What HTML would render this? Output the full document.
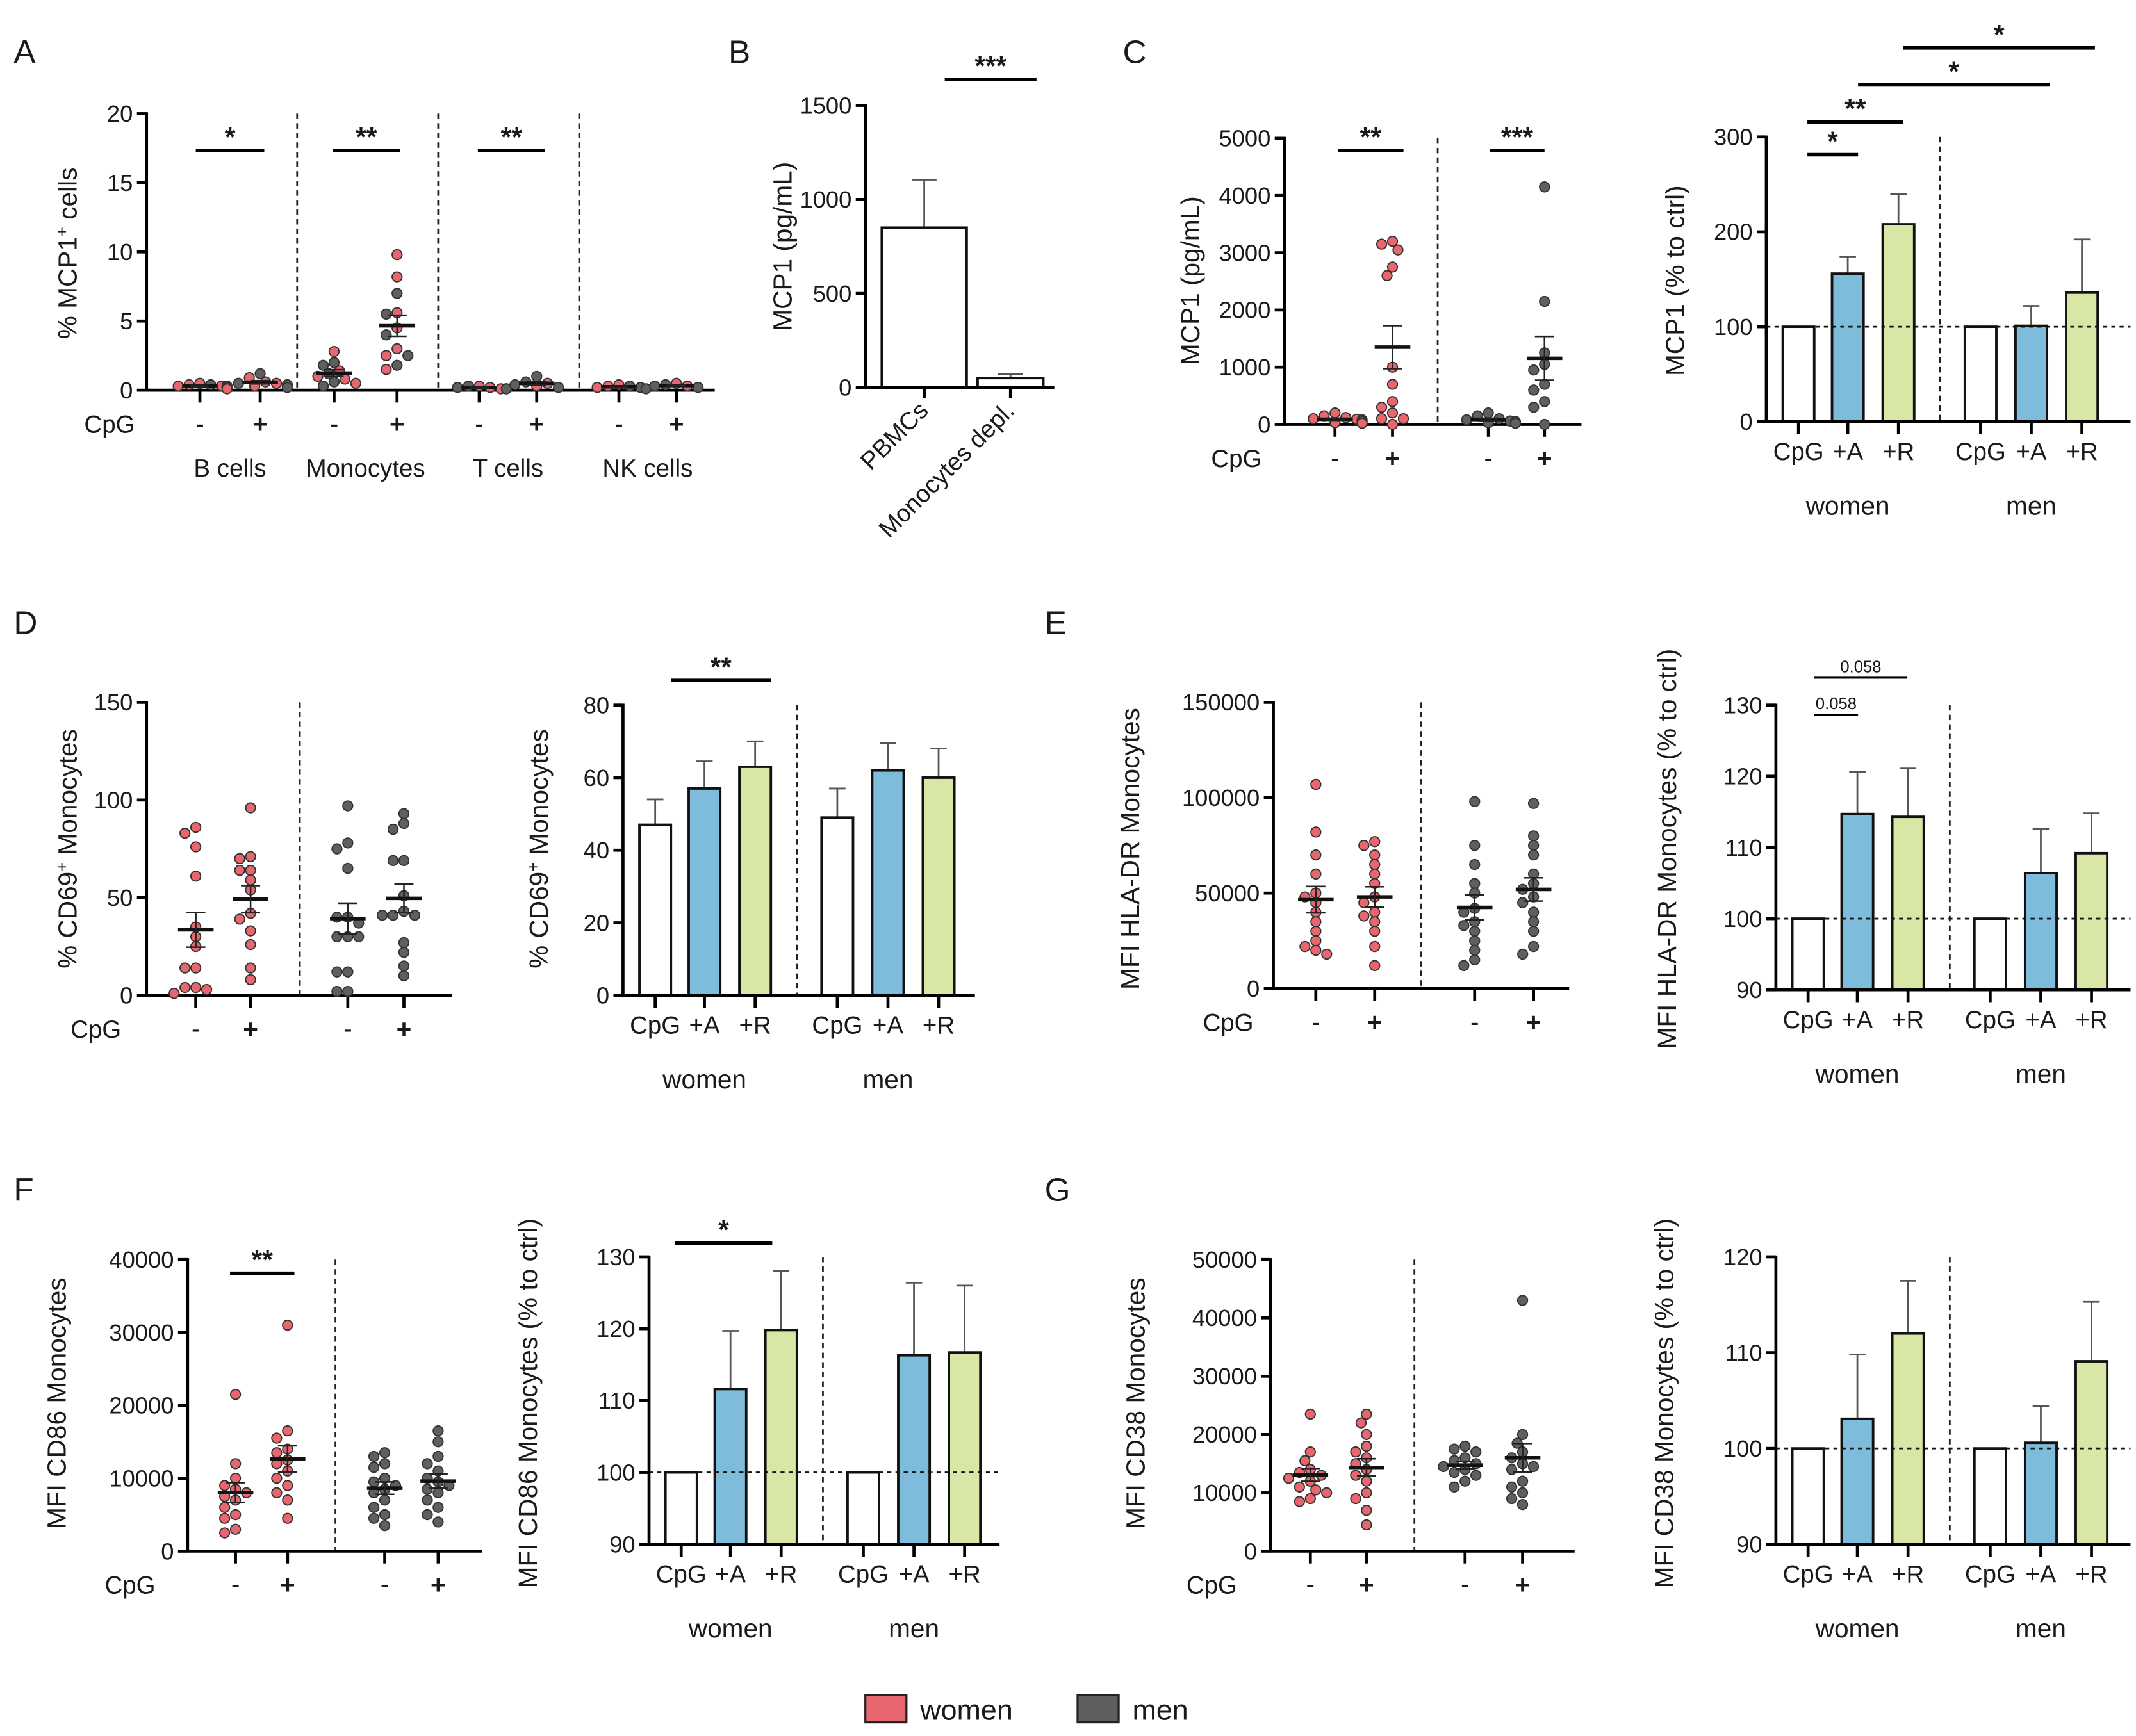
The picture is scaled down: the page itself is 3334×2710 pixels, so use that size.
<!DOCTYPE html>
<html><head><meta charset="utf-8"><title>MCP1 and monocyte activation figure</title>
<style>
html,body{margin:0;padding:0;background:#fff;}
svg{display:block;font-family:"Liberation Sans",Arial,sans-serif;}
</style></head>
<body>
<svg id="fig" xmlns="http://www.w3.org/2000/svg" width="3334" height="2710" viewBox="0 0 1560 1268">
<rect width="1560" height="1268" fill="#fff"/>
</svg>
<script>
// ---------- DATA ----------
const aCategories = ['B cells','Monocytes','T cells','NK cells'];
const aBNegWomen = [0.2,0.4,0.3,0.5,0.1,0.3];
const aBNegMen = [0.2,0.4,0.3];
const aBPosWomen = [0.3,0.6,0.9,0.5];
const aBPosMen = [0.4,1.2,0.5,0.2];
const aMNegWomen = [0.5,1.0,1.4,2.8,0.8];
const aMNegMen = [0.3,1.8,1.2,0.6,2.0];
const aMPosWomen = [9.8,8.2,5.6,4.5,3.0,1.5,2.5];
const aMPosMen = [7.0,5.5,4.0,2.5,1.8];
const aTNegWomen = [0.1,0.2,0.3];
const aTNegMen = [0.1,0.2,0.3,0.1];
const aTPosWomen = [0.3,0.5];
const aTPosMen = [0.4,1.0,0.2,0.6];
const aNKNegWomen = [0.2,0.4,0.3];
const aNKNegMen = [0.2,0.3,0.1];
const aNKPosWomen = [0.3,0.5];
const aNKPosMen = [0.2,0.4,0.3];
const aTicks = [0,5,10,15,20];

const bCategories = ['PBMCs','Monocytes depl.'];
const bMeans = [850,50];
const bSems = [255,20];
const bTicks = [0,500,1000,1500];

const cWomenNeg = [50,120,200,80,30,150,100,60,20,90];
const cWomenPos = [3200,3150,3050,2750,2600,1000,700,400,300,200,100,100,0];
const cMenNeg = [50,100,200,150,80,30,20,60];
const cMenPos = [4150,2150,1250,1050,950,700,600,400,300,0];
const cTicks = [0,1000,2000,3000,4000,5000];
const barCategories = ['CpG','+A','+R','CpG','+A','+R'];
const cBarMeans = [100,156,208,100,101,136];
const cBarSems = [0,18,32,0,21,56];
const cBarTicks = [0,100,200,300];

const dWomenNeg = [86,83,76,61,35,30,25,14,14,4,3,4,1];
const dWomenPos = [96,70,71,64,64,59,54,42,39,33,26,14,8];
const dMenNeg = [97,78,75,65,40,40,37,30,30,30,12,12,2,2];
const dMenPos = [93,88,85,69,69,51,43,41,41,41,27,22,15,10];
const dTicks = [0,50,100,150];
const dBarMeans = [47,57,63,49,62,60];
const dBarSems = [7,7.5,7,8,7.5,8];
const dBarTicks = [0,20,40,60,80];

const eWomenNeg = [107000,82000,70000,60000,50000,48000,45000,40000,35000,30000,25000,22000,20000,18000];
const eWomenPos = [77000,75000,70000,65000,60000,55000,48000,45000,40000,38000,35000,30000,22000,12000];
const eMenNeg = [98000,75000,65000,55000,50000,42000,40000,35000,33000,30000,25000,20000,15000,12000];
const eMenPos = [97000,80000,75000,70000,60000,55000,52000,48000,45000,40000,35000,30000,22000,18000];
const eTicks = [0,50000,100000,150000];
const eBarMeans = [100,114.7,114.3,100,106.4,109.2];
const eBarSems = [0,5.9,6.8,0,6.2,5.6];
const eBarTicks = [90,100,110,120,130];

const fWomenNeg = [21500,12000,10000,9000,8500,8000,7500,7000,6000,5000,4500,3000,2500];
const fWomenPos = [31000,16500,15500,14000,13500,12500,12000,11000,10000,9000,8000,7000,4500];
const fMenNeg = [13500,13000,12000,11500,10000,9500,9000,8500,8000,7000,6000,5000,4500,3500];
const fMenPos = [16500,15000,13000,12000,11000,10000,9500,9000,8500,8000,7000,6000,5000,4000];
const fTicks = [0,10000,20000,30000,40000];
const fBarMeans = [100,111.6,119.8,100,116.3,116.7];
const fBarSems = [0,8.1,8.2,0,10.1,9.3];
const fBarTicks = [90,100,110,120,130];

const gWomenNeg = [23500,17000,15500,14000,13500,13000,12500,12000,11000,10500,10000,9000,8500];
const gWomenPos = [23500,22000,20000,18000,17000,16000,15000,14000,13000,12000,10000,9000,7000,4500];
const gMenNeg = [18000,17500,17000,16000,15500,15000,14500,14000,13500,13000,12000,11000];
const gMenPos = [43000,20000,18500,17000,16000,15000,14500,14000,12000,11000,10000,9000,8000];
const gTicks = [0,10000,20000,30000,40000,50000];
const gBarMeans = [100,103.1,112,100,100.6,109.1];
const gBarSems = [0,6.7,5.5,0,3.8,6.2];
const gBarTicks = [90,100,110,120];

// ---------- DRAWING ----------
const NS = 'http://www.w3.org/2000/svg';
const svg = document.getElementById('fig');
const RED = '#e8676e', GRAY = '#5f5f5f', BLUE = '#7fbcdc', GREEN = '#d8e7a6';
const barColors = ['#ffffff', BLUE, GREEN, '#ffffff', BLUE, GREEN];

function mk(tag, attrs, parent, txt) {
  const e = document.createElementNS(NS, tag);
  for (const k in attrs) e.setAttribute(k, attrs[k]);
  if (txt !== undefined) e.textContent = txt;
  (parent || svg).appendChild(e);
  return e;
}
function line(p, x1, y1, x2, y2, w, col, dash) {
  const a = {x1, y1, x2, y2, stroke: col || '#000', 'stroke-width': w || 2};
  if (dash) a['stroke-dasharray'] = dash;
  return mk('line', a, p);
}
function text(p, x, y, s, size, anchor, weight) {
  return mk('text', {x, y, 'font-size': size || 17, 'text-anchor': anchor || 'middle', 'font-weight': weight || 'normal', fill: '#1a1a1a'}, p, s);
}
function scaler(vmin, vmax, yB, yT) { return v => yB - (v - vmin) / (vmax - vmin) * (yB - yT); }
function fmt(v) { return String(v); }
function meanOf(a) { return a.reduce((s, v) => s + v, 0) / a.length; }
function semOf(a) { const m = meanOf(a); const sd = Math.sqrt(a.reduce((s, v) => s + (v - m) * (v - m), 0) / (a.length - 1)); return sd / Math.sqrt(a.length); }

function panelLetter(x, y, s) {
  const t = text(svg, x, y, s, 24, 'start');
  
  
}
function yTitle(g, x, cy, parts, name) {
  const t = mk('text', {transform: `translate(${x},${cy}) rotate(-90)`, 'font-size': 19, 'text-anchor': 'middle', fill: '#1a1a1a'}, g);
  parts.forEach(p => {
    mk('tspan', p.sup ? {'baseline-shift': 'super', 'font-size': 12} : {}, t, p.t);
  });
  
  
}
function yAxis(g, ax, yB, yT, ticks, sc, name, fs) {
  const ag = mk('g', {}, g);
  
  
  line(ag, ax, yT - 1, ax, yB + 1, 2.2);
  ticks.forEach(t => {
    const y = sc(t);
    line(ag, ax - 7, y, ax, y, 2.2);
    text(ag, ax - 10, y + 6, fmt(t), fs || 17, 'end');
  });
}
function sig(g, x1, x2, y, s, small) {
  const sg = mk('g', {}, g);
  
  
  line(sg, x1, y, x2, y, small ? 1.5 : 2.6);
  if (small) text(sg, (x1 + x2) / 2, y - 4, s, 12);
  else text(sg, (x1 + x2) / 2, y - 3, s, 20, 'middle', 'bold');
}

function beeswarm(vals, sc, cx, r) {
  const placed = [];
  const order = vals.map((v, i) => ({v, i})).sort((a, b) => b.v - a.v);
  order.forEach(o => {
    const y = sc(o.v);
    const cands = [0, -1, 1, -2, 2, -3, 3, -4, 4, -5, 5];
    for (const c of cands) {
      const x = cx + c * r * 1.1;
      if (!placed.some(p => Math.hypot(p.x - x, p.y - y) < r * 1.9) || c === 5) { placed.push({x, y, i: o.i}); break; }
    }
  });
  return placed;
}

function scatterPanel(cfg) {
  const g = mk('g', {});
  
  
  const sc = scaler(cfg.vmin, cfg.vmax, cfg.yB, cfg.yT);
  yAxis(g, cfg.ax, cfg.yB, cfg.yT, cfg.ticks, sc, cfg.name + '-y-axis', cfg.tickSize);
  yTitle(g, cfg.tx, cfg.ty, cfg.title, cfg.name + '-y-title');
  cfg.seps.forEach(x => {
    const l = line(g, x, cfg.yT, x, cfg.yB, 1.3, '#222', '4 3');
    
    
  });
  const xa = mk('g', {}, g);
  
  
  line(xa, cfg.ax, cfg.yB, cfg.xEnd, cfg.yB, 2.2);
  cfg.groups.forEach((gr, k) => {
    line(xa, gr.x, cfg.yB, gr.x, cfg.yB + 9, 2.2);
    text(xa, gr.x, cfg.yB + 31, k % 2 === 0 ? '-' : '+', 19, 'middle', k % 2 ? 'bold' : 'normal');
  });
  const cp = text(xa, cfg.cpgX, cfg.yB + 31, 'CpG', 18, 'middle');
  
  
  const r = 3.6;
  cfg.groups.forEach(gr => {
    const all = [];
    gr.sets.forEach(s => s.vals.forEach(v => all.push({v, c: s.color})));
    const pos = beeswarm(all.map(a => a.v), sc, gr.x, r);
    const pg = mk('g', {}, g);
    
    
    pos.forEach(p => {
      const c = mk('circle', {cx: p.x, cy: p.y, r, fill: all[p.i].c, stroke: '#333', 'stroke-width': 0.9}, pg);
      
      
    });
    const vals = all.map(a => a.v);
    const m = meanOf(vals), se = semOf(vals);
    const mg = mk('g', {}, g);
    
    
    line(mg, gr.x - 13, sc(m), gr.x + 13, sc(m), 2.6, '#111');
    line(mg, gr.x, sc(m - se), gr.x, sc(m + se), 1.2, '#222');
    line(mg, gr.x - 7, sc(m + se), gr.x + 7, sc(m + se), 1.2, '#222');
    line(mg, gr.x - 7, sc(m - se), gr.x + 7, sc(m - se), 1.2, '#222');
  });
  (cfg.sigs || []).forEach(s => sig(g, s[0], s[1], s[2], s[3]));
  return g;
}

function barPanel(cfg) {
  const g = mk('g', {});
  
  
  const sc = scaler(cfg.vmin, cfg.vmax, cfg.yB, cfg.yT);
  const offs = [23.5, 59.5, 96.5, 156.5, 193.5, 230.5];
  const bw = 23;
  yTitle(g, cfg.tx, cfg.ty, cfg.title, cfg.name + '-y-title');
  const sepX = cfg.ax + 127;
  const sp = line(g, sepX, cfg.yT, sepX, cfg.yB, 1.3, '#222', '4 3');
  
  
  cfg.means.forEach((m, i) => {
    const cx = cfg.ax + offs[i];
    const bg = mk('g', {}, g);
    
    
    const top = sc(m), se = cfg.sems[i];
    if (se > 0) {
      line(bg, cx, top, cx, sc(m + se), 1.3, '#555');
      line(bg, cx - 6, sc(m + se), cx + 6, sc(m + se), 1.3, '#555');
    }
    mk('rect', {x: cx - bw / 2, y: top, width: bw, height: cfg.yB - top, fill: barColors[i], stroke: '#111', 'stroke-width': 1.8}, bg);
    line(bg, cx, cfg.yB, cx, cfg.yB + 9, 2.2);
    text(bg, cx, cfg.yB + 28, barCategories[i], 18);
  });
  if (cfg.ref !== undefined) {
    const rl = line(g, cfg.ax, sc(cfg.ref), cfg.xEnd, sc(cfg.ref), 1.3, '#111', '3 3');
    
    
  }
  yAxis(g, cfg.ax, cfg.yB, cfg.yT, cfg.ticks, sc, cfg.name + '-y-axis');
  const xa = line(g, cfg.ax, cfg.yB, cfg.xEnd, cfg.yB, 2.2);
  
  
  const w = text(g, cfg.ax + 59.5, cfg.yB + 68, 'women', 19);
  
  
  const mn = text(g, cfg.ax + 193.5, cfg.yB + 68, 'men', 19);
  
  
  (cfg.sigs || []).forEach(s => sig(g, s[0], s[1], s[2], s[3], s[4]));
  return g;
}

// ---------- PANELS ----------
panelLetter(10, 46, 'A'); panelLetter(532, 46, 'B'); panelLetter(820, 46, 'C');
panelLetter(10, 463, 'D'); panelLetter(763, 463, 'E');
panelLetter(10, 877, 'F'); panelLetter(763, 877, 'G');

// A
const pa = scatterPanel({name: 'panel-a', ax: 107, yB: 285, yT: 83, vmin: 0, vmax: 20, ticks: aTicks, xEnd: 522,
  seps: [217, 320, 423], cpgX: 80, tx: 56, ty: 185,
  title: [{t: '% MCP1'}, {t: '+', sup: true}, {t: ' cells'}],
  groups: [
    {x: 146, sets: [{vals: aBNegWomen, color: RED}, {vals: aBNegMen, color: GRAY}]},
    {x: 190, sets: [{vals: aBPosWomen, color: RED}, {vals: aBPosMen, color: GRAY}]},
    {x: 244, sets: [{vals: aMNegWomen, color: RED}, {vals: aMNegMen, color: GRAY}]},
    {x: 290, sets: [{vals: aMPosWomen, color: RED}, {vals: aMPosMen, color: GRAY}]},
    {x: 350, sets: [{vals: aTNegWomen, color: RED}, {vals: aTNegMen, color: GRAY}]},
    {x: 392, sets: [{vals: aTPosWomen, color: RED}, {vals: aTPosMen, color: GRAY}]},
    {x: 452, sets: [{vals: aNKNegWomen, color: RED}, {vals: aNKNegMen, color: GRAY}]},
    {x: 494, sets: [{vals: aNKPosWomen, color: RED}, {vals: aNKPosMen, color: GRAY}]}],
  sigs: [[143, 193, 110, '*'], [243, 292, 110, '**'], [349, 398, 110, '**']]});
[168, 267, 371, 473].forEach((x, i) => {
  const t = text(pa, x, 348, aCategories[i], 18);
  
  
});

// B
(function () {
  const g = mk('g', {});
  
  
  const yB = 283, yT = 77, ax = 632;
  const sc = scaler(0, 1500, yB, yT);
  yTitle(g, 578, 180, [{t: 'MCP1 (pg/mL)'}], 'panel-b-y-title');
  const xs = [675, 738], ws = [62, 48];
  bMeans.forEach((m, i) => {
    const bg = mk('g', {}, g);
    
    
    line(bg, xs[i], sc(m), xs[i], sc(m + bSems[i]), 1.3, '#555');
    line(bg, xs[i] - 9, sc(m + bSems[i]), xs[i] + 9, sc(m + bSems[i]), 1.3, '#555');
    mk('rect', {x: xs[i] - ws[i] / 2, y: sc(m), width: ws[i], height: yB - sc(m), fill: '#fff', stroke: '#111', 'stroke-width': 1.8}, bg);
    line(bg, xs[i], yB, xs[i], yB + 8, 2.2);
    mk('text', {transform: `translate(${xs[i] + 4},${yB + 18}) rotate(-45)`, 'font-size': 18, 'text-anchor': 'end', fill: '#1a1a1a'}, bg, bCategories[i]);
  });
  yAxis(g, ax, yB, yT, bTicks, sc, 'panel-b-y-axis');
  line(g, ax, yB, 770, yB, 2.2);
  sig(g, 690, 757, 58, '***');
})();

// C left
scatterPanel({name: 'panel-c-scatter', ax: 938, yB: 310, yT: 101, vmin: 0, vmax: 5000, ticks: cTicks, xEnd: 1155,
  seps: [1050], cpgX: 903, tx: 876, ty: 205, title: [{t: 'MCP1 (pg/mL)'}],
  groups: [{x: 975, sets: [{vals: cWomenNeg, color: RED}]}, {x: 1017, sets: [{vals: cWomenPos, color: RED}]},
    {x: 1087, sets: [{vals: cMenNeg, color: GRAY}]}, {x: 1128, sets: [{vals: cMenPos, color: GRAY}]}],
  sigs: [[977, 1025, 110, '**'], [1088, 1128, 110, '***']]});
// C right
barPanel({name: 'panel-c-bars', ax: 1290, yB: 308, yT: 100, vmin: 0, vmax: 300, ticks: cBarTicks, xEnd: 1556, ref: 100,
  means: cBarMeans, sems: cBarSems, tx: 1230, ty: 205, title: [{t: 'MCP1 (% to ctrl)'}],
  sigs: [[1320, 1357, 113, '*'], [1320, 1390, 89, '**'], [1357, 1497, 62, '*'], [1390, 1530, 35, '*']]});

// D
scatterPanel({name: 'panel-d-scatter', ax: 107, yB: 727, yT: 513, vmin: 0, vmax: 150, ticks: dTicks, xEnd: 330,
  seps: [219], cpgX: 70, tx: 56, ty: 620, title: [{t: '% CD69'}, {t: '+', sup: true}, {t: ' Monocytes'}],
  groups: [{x: 143, sets: [{vals: dWomenNeg, color: RED}]}, {x: 183, sets: [{vals: dWomenPos, color: RED}]},
    {x: 254, sets: [{vals: dMenNeg, color: GRAY}]}, {x: 295, sets: [{vals: dMenPos, color: GRAY}]}]});
barPanel({name: 'panel-d-bars', ax: 455, yB: 727, yT: 515, vmin: 0, vmax: 80, ticks: dBarTicks, xEnd: 712,
  means: dBarMeans, sems: dBarSems, tx: 400, ty: 620, title: [{t: '% CD69'}, {t: '+', sup: true}, {t: ' Monocytes'}],
  sigs: [[490, 563, 497, '**']]});

// E
scatterPanel({name: 'panel-e-scatter', ax: 930, yB: 722, yT: 513, vmin: 0, vmax: 150000, ticks: eTicks, xEnd: 1146,
  seps: [1038], cpgX: 897, tx: 832, ty: 620, title: [{t: 'MFI HLA-DR Monocytes'}],
  groups: [{x: 961, sets: [{vals: eWomenNeg, color: RED}]}, {x: 1004, sets: [{vals: eWomenPos, color: RED}]},
    {x: 1077, sets: [{vals: eMenNeg, color: GRAY}]}, {x: 1120, sets: [{vals: eMenPos, color: GRAY}]}]});
barPanel({name: 'panel-e-bars', ax: 1297, yB: 723, yT: 515, vmin: 90, vmax: 130, ticks: eBarTicks, xEnd: 1556, ref: 100,
  means: eBarMeans, sems: eBarSems, tx: 1224, ty: 620, title: [{t: 'MFI HLA-DR Monocytes (% to ctrl)'}],
  sigs: [[1325, 1357, 522, '0.058', true], [1325, 1393, 495, '0.058', true]]});

// F
scatterPanel({name: 'panel-f-scatter', ax: 137, yB: 1133, yT: 920, vmin: 0, vmax: 40000, ticks: fTicks, xEnd: 352,
  seps: [245], cpgX: 95, tx: 48, ty: 1025, title: [{t: 'MFI CD86 Monocytes'}],
  groups: [{x: 172, sets: [{vals: fWomenNeg, color: RED}]}, {x: 210, sets: [{vals: fWomenPos, color: RED}]},
    {x: 281, sets: [{vals: fMenNeg, color: GRAY}]}, {x: 320, sets: [{vals: fMenPos, color: GRAY}]}],
  sigs: [[168, 215, 930, '**']]});
barPanel({name: 'panel-f-bars', ax: 474, yB: 1128, yT: 918, vmin: 90, vmax: 130, ticks: fBarTicks, xEnd: 730, ref: 100,
  means: fBarMeans, sems: fBarSems, tx: 392, ty: 1025, title: [{t: 'MFI CD86 Monocytes (% to ctrl)'}],
  sigs: [[493, 564, 908, '*']]});

// G
scatterPanel({name: 'panel-g-scatter', ax: 928, yB: 1133, yT: 920, vmin: 0, vmax: 50000, ticks: gTicks, xEnd: 1150,
  seps: [1033], cpgX: 885, tx: 836, ty: 1025, title: [{t: 'MFI CD38 Monocytes'}],
  groups: [{x: 957, sets: [{vals: gWomenNeg, color: RED}]}, {x: 998, sets: [{vals: gWomenPos, color: RED}]},
    {x: 1070, sets: [{vals: gMenNeg, color: GRAY}]}, {x: 1112, sets: [{vals: gMenPos, color: GRAY}]}]});
barPanel({name: 'panel-g-bars', ax: 1297, yB: 1128, yT: 918, vmin: 90, vmax: 120, ticks: gBarTicks, xEnd: 1556, ref: 100,
  means: gBarMeans, sems: gBarSems, tx: 1222, ty: 1025, title: [{t: 'MFI CD38 Monocytes (% to ctrl)'}]});

// Legend
(function () {
  const g = mk('g', {});
  
  
  const w = mk('g', {}, g);
  
  
  mk('rect', {x: 632, y: 1238, width: 30, height: 20, fill: RED, stroke: '#222', 'stroke-width': 1.5}, w);
  text(w, 672, 1256, 'women', 21, 'start');
  const m = mk('g', {}, g);
  
  
  mk('rect', {x: 787, y: 1238, width: 30, height: 20, fill: GRAY, stroke: '#222', 'stroke-width': 1.5}, m);
  text(m, 827, 1256, 'men', 21, 'start');
})();
</script>
</body></html>
